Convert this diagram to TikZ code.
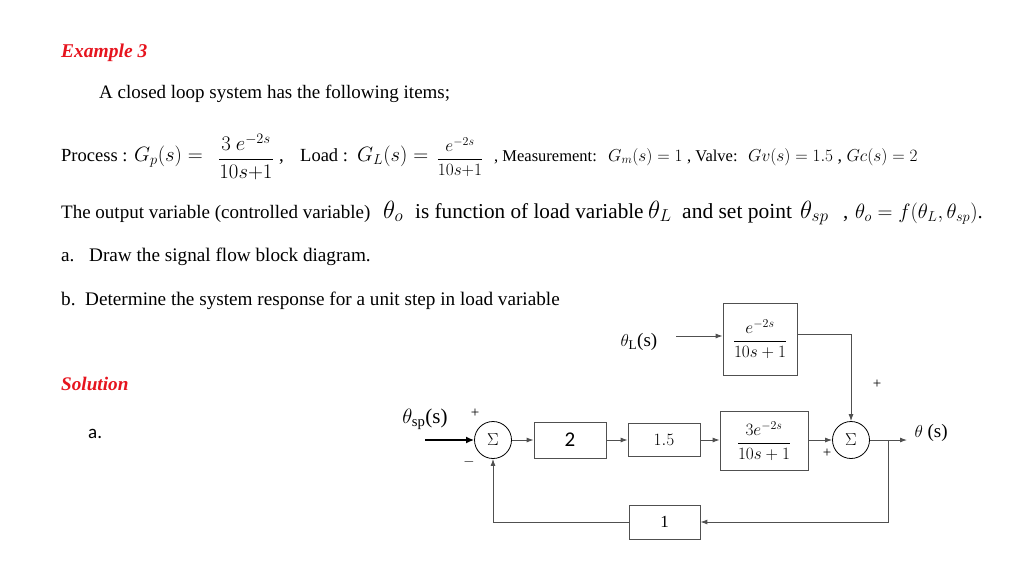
\documentclass[tikz,border=0pt]{standalone}
\usepackage{amsmath}
\usepackage{fontspec}
\setmainfont{Liberation Serif}
\newfontfamily\calib{Carlito}
\usetikzlibrary{arrows.meta,calc}
\newcommand\fsz[1]{\fontsize{#1}{#1}\selectfont}
\definecolor{exred}{RGB}{230,20,30}
\definecolor{lgray}{RGB}{80,80,80}
\begin{document}
\begin{tikzpicture}[x=1pt,y=-1pt,
  blk/.style={draw=lgray, line width=0.8pt, inner sep=0pt},
  sumc/.style={circle, draw=black, line width=0.8pt, minimum size=37pt, inner sep=0pt, font=\fsz{17}},
  sig/.style={draw=lgray, line width=0.9pt, -{Latex[length=7pt,width=5pt]}},
  txt/.style={anchor=base west, inner sep=0pt},
  pm/.style={inner sep=0pt, font=\fsz{15}}]
\useasboundingbox (0,0) rectangle (1024,576);

% ---- text ----
\node[txt, font=\fsz{19.5}\bfseries\itshape, text=exred] (ex) at (61,57) {Example 3};
\node[txt, font=\fsz{19}] (intro) at (99,98) {A closed loop system has the following items;};

\node[txt, font=\fsz{18.5}] (proc) at (61,161) {Process :};
\node[txt, font=\fsz{22.5}] (gp) at (134,161) {$G_p(s) =$};
\node[font=\fsz{20}] (gpf) at (246,157) {$\dfrac{3\ e^{-2s}}{10s{+}1}$};
\node[txt, font=\fsz{19}] (c1) at (279,161) {,};
\node[txt, font=\fsz{18.5}] (load) at (300,161) {Load :};
\node[txt, font=\fsz{22.5}] (gl) at (357,161) {$G_L(s) =$};
\node[font=\fsz{17}] (glf) at (460,157) {$\dfrac{e^{-2s}}{10s{+}1}$};
\node[txt, font=\fsz{16.5}] (meas) at (494,161) {, Measurement:};
\node[txt, font=\fsz{18}] (gm) at (608,161) {$G_m(s) = 1$};
\node[txt, font=\fsz{16.5}] (valve) at (687,161) {, Valve:};
\node[txt, font=\fsz{18}] (gv) at (748,161) {$Gv(s) = 1.5$ , $Gc(s) = 2$};

\node[txt, font=\fsz{19}] (out1) at (61,218) {The output variable (controlled variable)};
\node[txt, font=\fsz{23}] (th1) at (383,218) {$\theta_o$};
\node[txt, font=\fsz{21.2}] (out2) at (415,218) {is function of load variable};
\node[txt, font=\fsz{23}] (th2) at (648,218) {$\theta_L$};
\node[txt, font=\fsz{21.5}] (out3) at (682,218) {and set point};
\node[txt, font=\fsz{23}] (th3) at (800,218) {$\theta_{sp}$};
\node[txt, font=\fsz{21}] (c2) at (843,218) {,};
\node[txt, font=\fsz{20.5}] (th4) at (855,218) {$\theta_o = f(\theta_L, \theta_{sp})$.};

\node[txt, font=\fsz{19.2}] (qa) at (61,261) {a.};
\node[txt, font=\fsz{19.2}] (qa2) at (89,261) {Draw the signal flow block diagram.};
\node[txt, font=\fsz{19.2}] (qb) at (61,305) {b.\ \ Determine the system response for a unit step in load variable};

\node[txt, font=\fsz{19.2}\bfseries\itshape, text=exred] (sol) at (61,390) {Solution};
\node[txt, font=\fsz{19}\calib] (sa) at (88,438) {a.};

% ---- block diagram ----
\node[sumc] (s1) at (493,440) {$\Sigma$};
\node[blk, minimum width=72pt, minimum height=36pt, font=\fsz{21}\calib] (b2) at (570,440) {2};
\node[blk, minimum width=72pt, minimum height=33pt, font=\fsz{17}] (b15) at (664,440) {$1.5$};
\node[blk, minimum width=88pt, minimum height=59pt, font=\fsz{18}] (bp) at (764,441) {$\dfrac{3e^{-2s}}{10s+1}$};
\node[sumc] (s2) at (851,440) {$\Sigma$};
\node[blk, minimum width=74pt, minimum height=72pt, font=\fsz{18}] (bl) at (760,339) {$\dfrac{e^{-2s}}{10s+1}$};
\node[blk, minimum width=71pt, minimum height=34pt, font=\fsz{17}] (b1) at (664.5,522) {1};

\node[font=\fsz{21}] (thsp) at (425,419) {$\theta_{\mathrm{sp}}$(s)};
\node[font=\fsz{19}] (thL) at (639,342) {$\theta_{\mathrm{L}}$(s)};
\node[font=\fsz{19}, anchor=west] (tho) at (911,433) {$\theta$ (s)};

\coordinate (in) at (425,440);
\coordinate (Lin) at (676,336);
\coordinate (oend) at (907,440);
\coordinate (br) at (888,440);

\draw[line width=2pt, -{Latex[length=8pt,width=7pt]}] (in) -- (s1.west);
\draw[sig] (s1.east) -- (b2.west);
\draw[sig] (b2.east) -- (b15.west);
\draw[sig] (b15.east) -- (bp.west |- b15.east);
\draw[sig] (bp.east |- s2.west) -- (s2.west);
\draw[sig] (s2.east) -- (oend);
\draw[sig] (Lin) -- (Lin -| bl.west);
\draw[sig] ([yshift=5pt]bl.east) -| (s2.north);
\draw[sig] (br) |- (b1.east);
\draw[sig] (b1.west) -| (s1.south);

\node[pm] (p1) at (475,413) {+};
\node[pm] (m1) at (469,462) {$-$};
\node[pm] (p2) at (827,453) {+};
\node[pm] (p3) at (877,384) {+};
\end{tikzpicture}
\end{document}
